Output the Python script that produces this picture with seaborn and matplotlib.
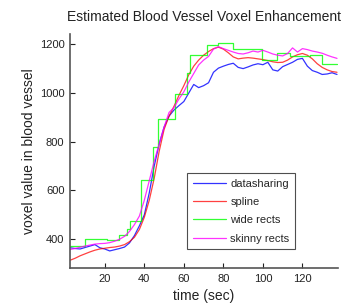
import numpy as np
import pandas as pd
import matplotlib
matplotlib.use("Agg")
import matplotlib.pyplot as plt
import seaborn as sns

# ---- data ----
time_sec = [2.5, 5, 7.5, 10, 12.5, 15, 17.5, 20, 22.5, 25, 27.5, 30, 32.5, 35, 37.5,
            40, 42.5, 45, 47.5, 50, 52.5, 55, 57.5, 60, 62.5, 65, 67.5, 70, 72.5, 75,
            77.5, 80, 82.5, 85, 87.5, 90, 92.5, 95, 97.5, 100, 102.5, 105, 107.5, 110,
            112.5, 115, 117.5, 120, 122.5, 125, 127.5, 130, 132.5, 135, 137.5]

datasharing = [365, 362, 360, 366, 372, 378, 365, 360, 352, 357, 362, 368, 385, 415, 455,
               500, 590, 700, 790, 860, 905, 930, 948, 965, 1000, 1035, 1022, 1030, 1042, 1085,
               1102, 1110, 1117, 1122, 1105, 1100, 1107, 1115, 1120, 1116, 1126, 1095, 1090, 1108,
               1117, 1126, 1138, 1142, 1110, 1092, 1085, 1076, 1078, 1083, 1076]

spline = [314, 322, 332, 340, 348, 355, 360, 363, 366, 368, 372, 378, 390, 408, 440,
          490, 560, 650, 760, 850, 905, 945, 990, 1030, 1075, 1110, 1135, 1155, 1170, 1182,
          1188, 1180, 1165, 1148, 1140, 1143, 1145, 1143, 1140, 1137, 1133, 1128, 1125, 1126,
          1135, 1148, 1157, 1162, 1155, 1140, 1120, 1105, 1095, 1088, 1085]

skinny_rects = [358, 362, 367, 372, 376, 380, 382, 383, 386, 392, 400, 412, 432, 460, 495,
                560, 640, 720, 790, 860, 920, 940, 975, 1005, 1045, 1080, 1115, 1135, 1150, 1180,
                1190, 1182, 1175, 1168, 1162, 1160, 1165, 1172, 1168, 1175, 1168, 1160, 1155, 1152,
                1162, 1185, 1168, 1182, 1178, 1172, 1168, 1163, 1155, 1148, 1142]

wide_time = [2.5, 10, 21, 27, 31, 33, 38.5, 44.5, 47, 55.6, 61.5, 63, 71.6, 77.4, 85,
             99.5, 107, 113.8, 124, 130, 137.5]
wide_rects = [371, 400, 395, 416, 440, 473, 642, 780, 893, 997, 1080, 1154, 1196, 1205, 1182,
              1137, 1163, 1150, 1155, 1120, 1120]

labels = ["datasharing", "spline", "wide rects", "skinny rects"]
colors = ["#0000ff", "#ff0000", "#00ff00", "#ff00ff"]

x_ticks = [20, 40, 60, 80, 100, 120]
y_ticks = [400, 600, 800, 1000, 1200]

# ---- plot ----
sns.set_theme(style="white")
plt.rcParams["font.family"] = ["Liberation Sans", "DejaVu Sans"]

fig = plt.figure(figsize=(3.64, 3.06), dpi=100)
ax = fig.add_axes([70/364, 38/306, 268/364, 234/306])

df_ds = pd.DataFrame({"t": time_sec, "v": datasharing})
df_sp = pd.DataFrame({"t": time_sec, "v": spline})
df_wr = pd.DataFrame({"t": wide_time, "v": wide_rects})
df_sk = pd.DataFrame({"t": time_sec, "v": skinny_rects})

lw = 0.9
sns.lineplot(data=df_ds, x="t", y="v", ax=ax, color=colors[0], lw=lw, label=labels[0], alpha=0.8)
sns.lineplot(data=df_sp, x="t", y="v", ax=ax, color=colors[1], lw=lw, label=labels[1], alpha=0.75)
sns.lineplot(data=df_wr, x="t", y="v", ax=ax, color=colors[2], lw=lw, label=labels[2],
             drawstyle="steps-post", alpha=0.8)
sns.lineplot(data=df_sk, x="t", y="v", ax=ax, color=colors[3], lw=lw, label=labels[3], alpha=0.8)

ax.set_xlim(2.4, 138)
ax.set_ylim(282, 1242)
ax.set_xticks(x_ticks)
ax.set_yticks(y_ticks)
ax.tick_params(direction="in", length=3.5, width=0.8, labelsize=8, colors="#222222",
               bottom=True, left=True, pad=4)
for s in ["top", "right"]:
    ax.spines[s].set_visible(False)
for s in ["left", "bottom"]:
    ax.spines[s].set_color("#555555")
    ax.spines[s].set_linewidth(1.2)

ax.set_xlabel("time (sec)", fontsize=10, color="#222222", labelpad=4)
ax.set_ylabel("voxel value in blood vessel", fontsize=10, color="#222222", labelpad=3)
fig.text(204/364, 1 - 17/306, "Estimated Blood Vessel Voxel Enhancement",
         ha="center", va="center", fontsize=10, color="#222222")

leg = ax.legend(loc="upper left", bbox_to_anchor=(187/364, 1 - 173/306),
                bbox_transform=fig.transFigure, fontsize=8, frameon=True, fancybox=False,
                edgecolor="#222222", handlelength=3.0, handletextpad=0.4,
                labelspacing=0.75, borderpad=0.5, borderaxespad=0)
leg.get_frame().set_linewidth(0.8)
for h in leg.get_lines():
    h.set_linewidth(0.9)

fig.savefig("out.png", dpi=100)
